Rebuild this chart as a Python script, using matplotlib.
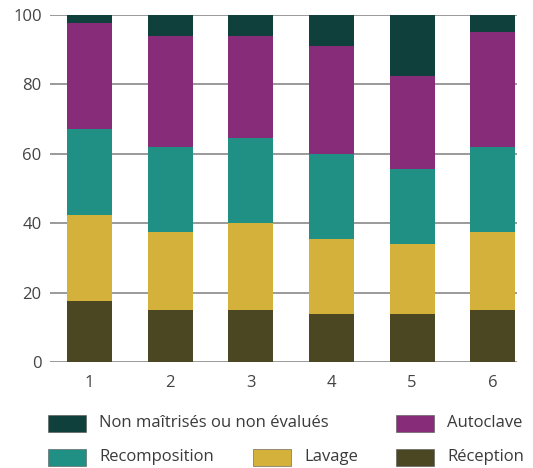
import matplotlib
matplotlib.use("Agg")
from matplotlib import pyplot as plt, patches
import numpy as np

plt.rcParams['font.family'] = ['Open Sans', 'DejaVu Sans']

groupes = ['1', '2', '3', '4', '5', '6']

# parts (%) de chaque étape, du bas vers le haut
reception = [17.5, 15, 15, 14, 14, 15]
lavage = [25, 22.5, 25, 21.5, 20, 22.5]
recomposition = [24.5, 24.5, 24.5, 24.5, 21.5, 24.5]
autoclave = [30.5, 32, 29.5, 31, 27, 33]
non_maitrises = [2.5, 6, 6, 9, 17.5, 5]

series = [
    ('Réception', reception, '#4b4722'),
    ('Lavage', lavage, '#d4b13b'),
    ('Recomposition', recomposition, '#208f84'),
    ('Autoclave', autoclave, '#862c79'),
    ('Non maîtrisés ou non évalués', non_maitrises, '#10403b'),
]

W, H = 533, 468
fig = plt.figure(figsize=(W / 100, H / 100), dpi=100)
ax = fig.add_axes([50 / W, 1 - 362.3 / H, 467 / W, 347.6 / H])

x = np.arange(1, len(groupes) + 1)
bas = np.zeros(len(groupes))
for nom, vals, coul in series:
    ax.bar(x, vals, width=0.56, bottom=bas, color=coul, zorder=2)
    bas += np.array(vals)

ax.set_xlim(0.51, 6.30)
ax.set_ylim(0, 100)
ax.set_yticks([0, 20, 40, 60, 80, 100])
ax.set_xticks(x)
ax.set_xticklabels(groupes)
ax.yaxis.grid(True, color='#9a9a9a', linewidth=1.4, zorder=0)
ax.set_axisbelow(True)
for s in ax.spines.values():
    s.set_visible(False)
ax.tick_params(axis='both', length=0, labelsize=12, colors='#444444')
ax.tick_params(axis='x', pad=9)
ax.tick_params(axis='y', pad=6)

# légende sur deux lignes
entrees = [
    ('Non maîtrisés ou non évalués', '#10403b', 48, 423),
    ('Autoclave', '#862c79', 396, 423),
    ('Recomposition', '#208f84', 48, 457),
    ('Lavage', '#d4b13b', 253, 457),
    ('Réception', '#4b4722', 396, 457),
]
for nom, coul, px, py in entrees:
    fig.add_artist(patches.Rectangle((px / W, 1 - (py + 8.5) / H), 38 / W, 17 / H,
                                     transform=fig.transFigure, facecolor=coul,
                                     edgecolor='#555555', linewidth=0.4))
    fig.text((px + 51) / W, 1 - py / H, nom, fontsize=12, color='#3a3a3a',
             va='center', ha='left')

fig.savefig('out.png', dpi=100)
